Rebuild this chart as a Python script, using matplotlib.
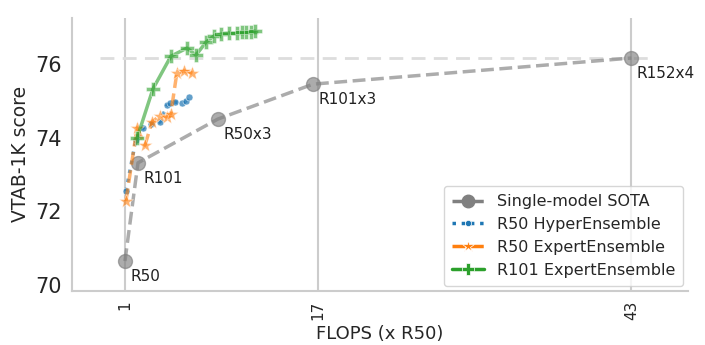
""" VTAB-1K score vs FLOPS for single models and ensembles """

import matplotlib
matplotlib.use("Agg")
import matplotlib.pyplot as plt
import seaborn as sns

# single-model SOTA
sota_names = ["R50", "R101", "R50x3", "R101x3", "R152x4"]
sota_flops = [1.0, 2.08, 8.7, 16.6, 43.0]
sota_score = [70.65, 73.32, 74.51, 75.46, 76.17]

# R50 HyperEnsemble
hyper_flops = [1.08, 1.9, 2.5, 3.15, 3.9, 4.5, 4.7, 5.15, 5.7, 6.05, 6.3]
hyper_score = [72.55, 73.94, 74.27, 74.38, 74.43, 74.89, 74.95, 74.97, 74.95, 75.0, 75.1]

# R50 ExpertEnsemble
r50_expert_flops = [1.08, 2.0, 2.66, 3.24, 3.9, 4.5, 4.8, 5.3, 5.9, 6.6]
r50_expert_score = [72.28, 74.27, 73.8, 74.43, 74.6, 74.57, 74.65, 75.76, 75.82, 75.76]

# R101 ExpertEnsemble
r101_expert_flops = [2.0, 3.32, 4.81, 6.14, 6.89, 7.72, 8.38, 8.96, 9.62, 10.29,
                     10.7, 11.03, 11.45, 11.78]
r101_expert_score = [73.99, 75.33, 76.22, 76.44, 76.25, 76.6, 76.77, 76.82, 76.85,
                     76.85, 76.88, 76.88, 76.88, 76.9]

x_ticks = [1, 17, 43]

sns.set_style("whitegrid")

fig = plt.figure(figsize=(7.05, 3.45), dpi=100)
ax = fig.add_axes([0.102, 0.157, 0.874, 0.791])

# reference line at best single model
ax.hlines(sota_score[-1], -1.07, 44.9, colors="#dddddd", linestyles=(0, (5, 3)),
          linewidth=2, zorder=1)

ax.plot(sota_flops, sota_score, color="gray", linestyle="--", linewidth=2.5,
        marker="o", markersize=10, alpha=0.65, markeredgecolor="gray",
        label="Single-model SOTA", zorder=2)
ax.plot(hyper_flops, hyper_score, color="#1f77b4", linestyle=":", linewidth=2.5,
        marker="o", markersize=5, alpha=0.7, markeredgecolor="white",
        markeredgewidth=0.5, label="R50 HyperEnsemble", zorder=3)
ax.plot(r50_expert_flops, r50_expert_score, color="#ff7f0e", linestyle="--",
        linewidth=2.5, marker="*", markersize=10, alpha=0.6,
        markeredgecolor="white", markeredgewidth=0.5,
        label="R50 ExpertEnsemble", zorder=4)
ax.plot(r101_expert_flops, r101_expert_score, color="#2ca02c", linestyle="-",
        linewidth=2.5, marker="P", markersize=10, alpha=0.6,
        markeredgecolor="white", markeredgewidth=0.5,
        label="R101 ExpertEnsemble", zorder=5)

for name, fx, sy in zip(sota_names, sota_flops, sota_score):
    ax.annotate(name, (fx, sy), xytext=(4, -11), textcoords="offset points",
                ha="left", va="center", fontsize=11, color="#222222")

ax.set_xlim(-3.4, 47.7)
ax.set_ylim(69.84, 77.26)
ax.set_xticks(x_ticks)
ax.set_xticklabels([str(t) for t in x_ticks], rotation=90, fontsize=11)
ax.set_yticks([70, 72, 74, 76])
ax.tick_params(axis="y", labelsize=15)
ax.grid(axis="y", visible=False)
ax.grid(axis="x", color="#cccccc", linewidth=1.5)
ax.set_xlabel("FLOPS (x R50)", fontsize=13)
ax.set_ylabel("VTAB-1K score", fontsize=13.5)

for side in ["top", "right"]:
    ax.spines[side].set_visible(False)
for side in ["left", "bottom"]:
    ax.spines[side].set_color("#cccccc")
    ax.spines[side].set_linewidth(1.5)

leg = ax.legend(loc="lower right", fontsize=11.5, frameon=True, borderaxespad=0.3,
                handlelength=2.0, handletextpad=0.8, labelspacing=0.5,
                borderpad=0.5, markerscale=0.9)
for h in leg.legend_handles:
    h.set_alpha(1)

fig.savefig("out.png", dpi=100)
